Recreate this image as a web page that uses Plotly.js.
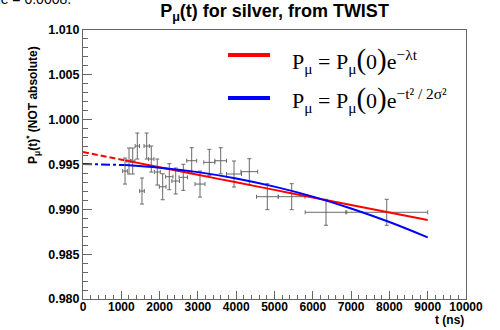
<!DOCTYPE html>
<html><head><meta charset="utf-8">
<script src="https://cdn.plot.ly/plotly-3.0.1.min.js"></script>
<style>html,body{margin:0;padding:0;background:#fff}#plot{width:500px;height:330px}</style>
</head><body><div id="plot"></div>
<script>
// Data points
const tData = [1097,1201,1298,1418,1540,1663,1783,1940,2081,2253,2420,2619,2838,3055,3298,3595,3943,4342,4812,5449,6345,7930];
const pData = [0.99427,0.99539,0.99539,0.99706,0.99204,0.99706,0.99561,0.99416,0.99252,0.99364,0.99316,0.99357,0.99542,0.99282,0.99524,0.99542,0.99394,0.99420,0.99141,0.99141,0.98967,0.98967];
const tErr = [61,55,58,57,61,70,70,78,87,96,100,110,130,130,144,152,196,218,282,348,544,1070];
const pErr = [0.00145,0.00145,0.00145,0.00145,0.00145,0.00145,0.00145,0.00145,0.00145,0.00145,0.00145,0.00145,0.00145,0.00145,0.00145,0.00145,0.00145,0.00145,0.00145,0.00145,0.00145,0.00145];

// Fit curves
const tExtrap = [0,550,1100];
const redExtrap = [0.99639,0.99593,0.99546];
const blueExtrap = [0.99506,0.99503,0.99494];
const tFit = [1100,2000,3000,4000,5000,6000,7000,8000,9000];
const redFit = [0.99546,0.99470,0.99385,0.99301,0.99217,0.99133,0.99049,0.98965,0.98881];
const blueFit = [0.99494,0.99465,0.99415,0.99344,0.99253,0.99142,0.99010,0.98859,0.98688];

const FONT = 'Liberation Sans, Arial, sans-serif';
const SERIF = 'Liberation Serif, Times New Roman, serif';
const axisCol = '#666';
const NB = '\u00a0';
const BIG = s => '<span style="font-size:29px">' + s + '</span>';

const traces = [
  {x:tExtrap, y:redExtrap, mode:'lines', line:{color:'#ff0000', width:2, dash:'6px,3px'}, showlegend:false, hoverinfo:'skip'},
  {x:tExtrap, y:blueExtrap, mode:'lines', line:{color:'#0000ff', width:2, dash:'9px,3px,3px,3px'}, showlegend:false, hoverinfo:'skip'},
  {x:tData, y:pData, mode:'markers', marker:{size:1, color:'#666'},
   error_x:{type:'data', array:tErr, color:'#6a6a6a', thickness:1, width:2},
   error_y:{type:'data', array:pErr, color:'#6a6a6a', thickness:1, width:2}, showlegend:false},
  {x:tFit, y:redFit, mode:'lines', line:{color:'#ff0000', width:2, shape:'spline'}, showlegend:false},
  {x:tFit, y:blueFit, mode:'lines', line:{color:'#0000ff', width:2, shape:'spline'}, showlegend:false}
];

const layout = {
  width:500, height:330,
  margin:{l:83, r:34, t:30, b:31},
  paper_bgcolor:'#fff', plot_bgcolor:'#fff',
  showlegend:false,
  title:{text:'P<sub>μ</sub>(t) for silver, from TWIST', font:{family:FONT, size:18, weight:'bold', color:'#000'},
         x:0.5, xref:'paper', xanchor:'center', y:1-11/330, yref:'container', yanchor:'middle'},
  xaxis:{range:[0,10000], dtick:1000, tick0:0, tickformat:'d', showgrid:false, zeroline:false,
         showline:true, mirror:true, linecolor:axisCol, linewidth:1,
         ticks:'inside', ticklen:8, tickcolor:axisCol, tickwidth:1, ticklabelstandoff:-3,
         minor:{dtick:200, ticks:'inside', ticklen:4, tickcolor:axisCol, showgrid:false},
         tickfont:{family:FONT, size:12, weight:'bold', color:'#000'}},
  yaxis:{range:[0.980,1.010], dtick:0.005, tick0:0.980, tickformat:'.3f', showgrid:false, zeroline:false,
         showline:true, mirror:true, linecolor:axisCol, linewidth:1,
         ticks:'inside', ticklen:9, tickcolor:axisCol, tickwidth:1,
         minor:{dtick:0.001, ticks:'inside', ticklen:5, tickcolor:axisCol, showgrid:false},
         tickfont:{family:FONT, size:12.5, weight:'bold', color:'#000'}},
  shapes:[
    {type:'line', xref:'paper', yref:'paper', x0:(228-83)/383, x1:(270-83)/383, y0:(299-55)/269, y1:(299-55)/269, line:{color:'#ff0000', width:4}},
    {type:'line', xref:'paper', yref:'paper', x0:(228-83)/383, x1:(270-83)/383, y0:(299-98)/269, y1:(299-98)/269, line:{color:'#0000ff', width:4}}
  ],
  annotations:[
    {text:'value = 0.0008.', xref:'paper', yref:'paper', x:(73-83)/383, y:(299+1.5)/269, xanchor:'right', yanchor:'middle', showarrow:false,
     font:{family:FONT, size:14, color:'#000'}},
    {text:'P<sub>μ</sub>(t)<sup>*</sup> (NOT absolute)', xref:'paper', yref:'paper', x:(33-83)/383, y:(299-105)/269, textangle:-90,
     xanchor:'center', yanchor:'middle', showarrow:false, font:{family:FONT, size:12, weight:'bold', color:'#000'}},
    {text:'t (ns)', xref:'paper', yref:'paper', x:1, y:(299-320)/269, xanchor:'right', yanchor:'middle', showarrow:false,
     font:{family:FONT, size:12, weight:'bold', color:'#000'}},
    {text:'P<sub>μ</sub>' + NB + '=' + NB + 'P<sub>μ</sub>' + BIG('(') + '0' + BIG(')') + 'e<sup>−λt</sup>',
     xref:'paper', yref:'paper', x:(290-83)/383, y:(299-60)/269, xanchor:'left', yanchor:'middle', showarrow:false,
     font:{family:SERIF, size:22, color:'#000'}},
    {text:'P<sub>μ</sub>' + NB + '=' + NB + 'P<sub>μ</sub>' + BIG('(') + '0' + BIG(')') + 'e<sup>−t² / 2σ²</sup>',
     xref:'paper', yref:'paper', x:(290-83)/383, y:(299-99)/269, xanchor:'left', yanchor:'middle', showarrow:false,
     font:{family:SERIF, size:22, color:'#000'}}
  ]
};

Plotly.newPlot('plot', traces, layout, {staticPlot:true, displayModeBar:false});
</script></body></html>
